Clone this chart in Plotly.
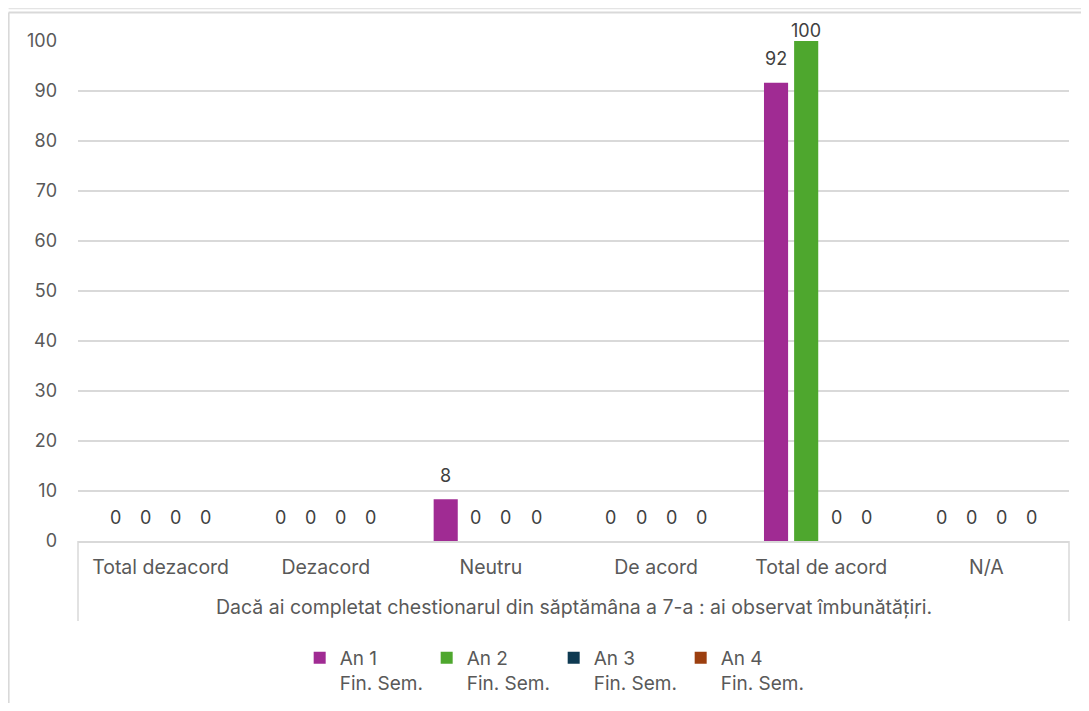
import plotly.graph_objects as go

question = "Dacă ai completat chestionarul din săptămâna a 7-a : ai observat îmbunătățiri."
categories = ["Total dezacord", "Dezacord", "Neutru", "De acord", "Total de acord", "N/A"]
series_names = ["An 1<br>Fin. Sem.", "An 2<br>Fin. Sem.", "An 3<br>Fin. Sem.", "An 4<br>Fin. Sem."]
an1 = [0, 0, 8.33, 0, 91.67, 0]
an2 = [0, 0, 0, 0, 100, 0]
an3 = [0, 0, 0, 0, 0, 0]
an4 = [0, 0, 0, 0, 0, 0]
colors = ["#A02B93", "#4EA72E", "#0E3A52", "#9C3F0F"]
y_ticks = [0, 10, 20, 30, 40, 50, 60, 70, 80, 90, 100]

FONT = "Inter, Open Sans, sans-serif"
GREY = "#595959"
LABEL = "#404040"

# geometry (the page has an 8px body margin)
W, H = 1073, 695
ML, MT, PW, PH = 70, 33, 991, 500
BARGAP, BARGROUPGAP = 0.27, 0.2

all_series = [an1, an2, an3, an4]
fig = go.Figure()
for name, vals, col in zip(series_names, all_series, colors):
    fig.add_trace(go.Bar(
        x=categories, y=vals, name=name,
        marker=dict(color=col, line=dict(width=0)),
    ))

# data labels, placed over each bar of the group
cat_px = PW / len(categories)
slot = cat_px * (1 - BARGAP) / len(all_series)
for i, vals in enumerate(all_series):
    xs = (i - (len(all_series) - 1) / 2) * slot
    for c, v in zip(categories, vals):
        fig.add_annotation(
            x=c, y=v, xref="x", yref="y", text=f"{v:.0f}", showarrow=False,
            xshift=xs, yshift=(24 if v < 97 else 11), yanchor="middle",
            font=dict(family=FONT, size=18, color=LABEL),
        )

# group (second-level) label and dividers
fig.add_annotation(
    x=0.5, y=-0.132, xref="paper", yref="paper", text=question, showarrow=False,
    yanchor="middle", font=dict(family=FONT, size=19.5, color=GREY),
)
for xd in (0, 1):
    fig.add_shape(type="line", xref="paper", yref="paper", x0=xd, x1=xd, y0=0, y1=-0.16,
                  line=dict(color="#D9D9D9", width=1.5))

fig.update_layout(
    width=W, height=H,
    barmode="group", bargap=BARGAP, bargroupgap=BARGROUPGAP,
    paper_bgcolor="white", plot_bgcolor="white",
    margin=dict(l=ML, r=W - ML - PW, t=MT, b=H - MT - PH, autoexpand=False),
    font=dict(family=FONT, size=18, color=GREY),
    legend=dict(
        orientation="h", x=0.48, xanchor="center", y=-0.196, yanchor="top",
        font=dict(family=FONT, size=19, color=GREY),
        entrywidth=82, entrywidthmode="pixels",
        itemwidth=30, traceorder="normal", valign="top",
    ),
    showlegend=True,
)
fig.update_xaxes(
    type="category",
    showline=True, linecolor="#D9D9D9", linewidth=1.5,
    tickfont=dict(family=FONT, size=19.5, color=GREY),
    ticks="", ticklabelstandoff=8, automargin=False,
)
fig.update_yaxes(
    range=[0, 100], tickvals=y_ticks,
    showgrid=True, gridcolor="#D9D9D9", gridwidth=1.5,
    zeroline=False, showline=False, ticks="",
    tickfont=dict(family=FONT, size=18, color=GREY),
    ticklabelstandoff=20, automargin=False,
)
# outer chart frame
fx = -ML / PW + 0.6 / PW
fig.add_shape(type="line", xref="paper", yref="paper", x0=fx, x1=1.05, y0=1 + (MT - 4.5) / PH, y1=1 + (MT - 4.5) / PH,
              line=dict(color="#D9D9D9", width=2))
fig.add_shape(type="line", xref="paper", yref="paper", x0=fx, x1=1.05, y0=1 + (MT - 0.5) / PH, y1=1 + (MT - 0.5) / PH,
              line=dict(color="#E4E4E4", width=1.5))
fig.add_shape(type="line", xref="paper", yref="paper", x0=fx, x1=fx, y0=-0.5, y1=1 + (MT - 4.5) / PH,
              line=dict(color="#D9D9D9", width=2))

fig.write_html("out.html")
